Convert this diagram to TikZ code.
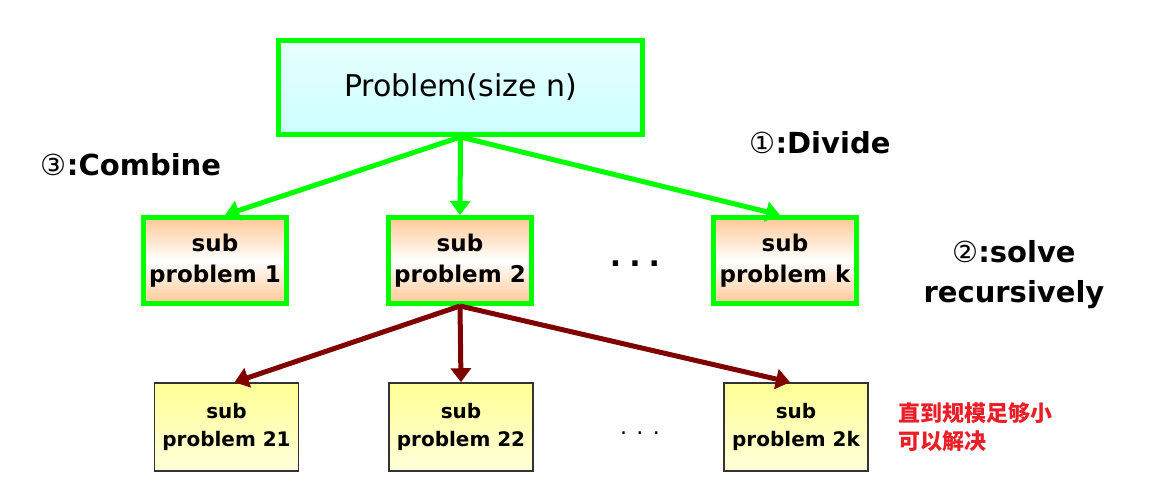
\documentclass[tikz,border=0pt]{standalone}
\usepackage{fontspec}
\setmainfont{DejaVu Sans}
\newfontfamily\cjkfont{Noto Sans CJK SC}
\usetikzlibrary{arrows.meta, positioning}

\definecolor{brightgreen}{RGB}{0,255,0}
\definecolor{darkred}{RGB}{128,0,0}
\definecolor{peach}{RGB}{255,200,150}
\definecolor{paleyellow}{RGB}{255,255,150}
\definecolor{palecyan}{RGB}{204,255,255}
\definecolor{notered}{RGB}{235,30,40}

\tikzset{
  rootbox/.style={draw=brightgreen, line width=5pt, minimum width=364pt,
    minimum height=94pt, top color=palecyan!45, bottom color=palecyan,
    font=\fontsize{30}{36}\selectfont},
  subbox/.style={draw=brightgreen, line width=5pt, minimum width=143pt,
    minimum height=86pt, top color=peach, bottom color=peach, middle color=white,
    align=center, font=\bfseries\fontsize{23}{31}\selectfont},
  leafbox/.style={draw=black!80, line width=1.5pt, minimum width=144pt,
    minimum height=88pt, top color=paleyellow, bottom color=paleyellow!35,
    align=center, font=\bfseries\fontsize{20}{28}\selectfont},
  phase/.style={align=center, font=\bfseries\fontsize{29}{40}\selectfont},
  divide/.style={line width=5pt, brightgreen, -{Triangle[length=14pt,width=20pt]}},
  recurse/.style={line width=5pt, darkred, -{Triangle[length=14pt,width=20pt]}}
}

\begin{document}
\begin{tikzpicture}[x=1pt, y=-1pt]
  \useasboundingbox (0,0) rectangle (1154,500);

  \node[rootbox] (root) at (460.5,87.5) {Problem(size n)};

  \node[subbox] (sp1) at (215,260.5) {sub\\problem 1};
  \node[subbox] (sp2) at (460,260.5) {sub\\problem 2};
  \node[subbox] (spk) at (785,260.5) {sub\\problem k};
  \node[font=\bfseries\fontsize{30}{30}\selectfont] (dots1) at (635,264)
    {.\hspace{8pt}.\hspace{8pt}.};

  \node[leafbox] (sp21) at (226.5,427) {sub\\problem 21};
  \node[leafbox] (sp22) at (461,427) {sub\\problem 22};
  \node[leafbox] (sp2k) at (796,427) {sub\\problem 2k};
  \node[font=\fontsize{22}{22}\selectfont] (dots2) at (640,433) {. . .};

  % divide step
  \foreach \t/\dx in {sp1/10, sp2/0, spk/-5}{
    \draw[divide] (root.south) -- ([xshift=\dx pt]\t.north);
  };

  % recursive step
  \foreach \t/\dx in {sp21/8, sp22/0, sp2k/-6}{
    \draw[recurse] (sp2.south) -- ([xshift=\dx pt]\t.north);
  };

  \node[phase] (combine) at (131,165) {{\mdseries ③}:Combine};
  \node[phase] (divlabel) at (820,143) {{\mdseries ①}:Divide};
  \node[phase] (solve) at (1014,275) {{\mdseries ②}:solve\\recursively};
  \node[anchor=west, align=left, text=notered,
        font=\cjkfont\bfseries\fontsize{22}{28}\selectfont] (small) at (895,427)
    {直到规模足够小\\可以解决};
\end{tikzpicture}
\end{document}
